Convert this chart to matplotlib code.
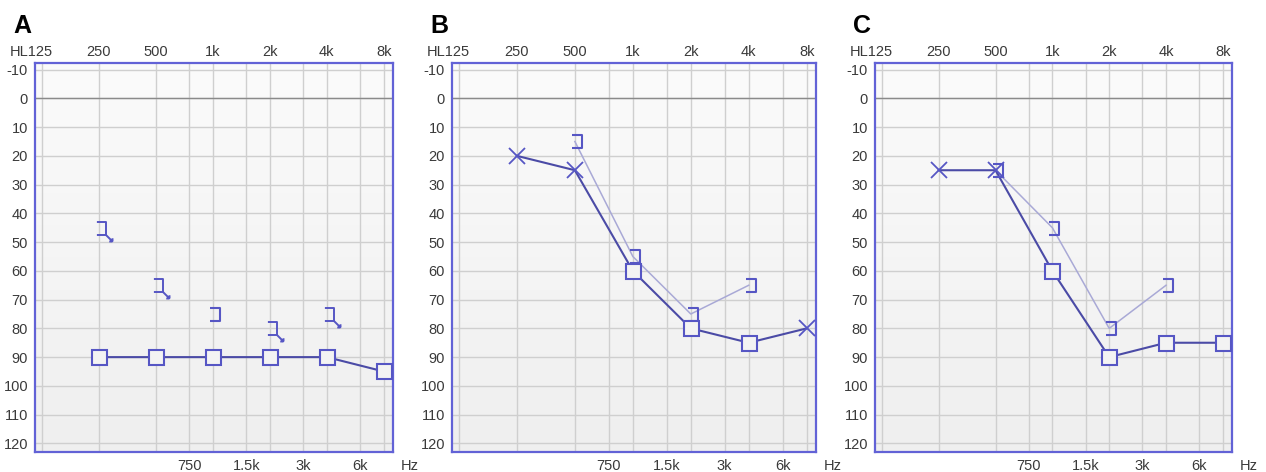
import matplotlib
matplotlib.use("Agg")
import matplotlib.pyplot as plt
from matplotlib.path import Path
from matplotlib.colors import LinearSegmentedColormap
from matplotlib.ticker import FixedLocator, FixedFormatter
import numpy as np

# ---------------- data ----------------
octave_freqs = [125, 250, 500, 1000, 2000, 4000, 8000]
octave_labels = ["", "250", "500", "1k", "2k", "4k", "8k"]
mid_freqs = [750, 1500, 3000, 6000]
mid_labels = ["750", "1.5k", "3k", "6k"]
db_ticks = list(range(-10, 121, 10))

panel_names = ["A", "B", "C"]

# air conduction (dark line)
A_ac_freq = [250, 500, 1000, 2000, 4000, 8000]
A_ac_db = [90, 90, 90, 90, 90, 95]
A_ac_sym = ["s", "s", "s", "s", "s", "s"]

B_ac_freq = [250, 500, 1000, 2000, 4000, 8000]
B_ac_db = [20, 25, 60, 80, 85, 80]
B_ac_sym = ["x", "x", "s", "s", "s", "x"]

C_ac_freq = [250, 500, 1000, 2000, 4000, 8000]
C_ac_db = [25, 25, 60, 90, 85, 85]
C_ac_sym = ["x", "x", "s", "s", "s", "s"]

# bone conduction (brackets, light line)
A_bc_freq = [250, 500, 1000, 2000, 4000]
A_bc_db = [45, 65, 75, 80, 75]
A_bc_noresp = [True, True, False, True, True]
A_bc_connected = False

B_bc_freq = [500, 1000, 2000, 4000]
B_bc_db = [15, 55, 75, 65]
B_bc_noresp = [False, False, False, False]
B_bc_connected = True

C_bc_freq = [500, 1000, 2000, 4000]
C_bc_db = [25, 45, 80, 65]
C_bc_noresp = [False, False, False, False]
C_bc_connected = True

# ---------------- style ----------------
W, H = 1266, 472
FONT = "Liberation Sans"
SPINE = "#6262d6"
DARK = "#4b4ba6"
MARK = "#5656c4"
LIGHT = "#a9a9d6"
GRID = "#cfcfcf"
FACE = "#f4f4f4"
TXT = "#3a3a3a"

px = 72.0 / 100.0  # points per pixel at dpi 100

bg_cmap = LinearSegmentedColormap.from_list("bg", ["#fbfbfb", "#efefef"])
gradient = np.linspace(0, 1, 256).reshape(-1, 1)

# bracket marker  "]"
br_verts = [(-0.2, 0.5), (0.5, 0.5), (0.5, -0.5), (-0.2, -0.5)]
br_codes = [Path.MOVETO, Path.LINETO, Path.LINETO, Path.LINETO]
bracket = Path(br_verts, br_codes)

# bracket with "no response" arrow
ar_verts = br_verts + [(0.5, -0.5), (1.0, -1.0), (1.0, -1.0), (1.0, -0.75), (1.0, -1.0), (0.75, -1.0)]
ar_codes = br_codes + [Path.MOVETO, Path.LINETO, Path.MOVETO, Path.LINETO, Path.MOVETO, Path.LINETO]
bracket_arrow = Path(ar_verts, ar_codes)

fig = plt.figure(figsize=(W / 100, H / 100), dpi=100)
fig.patch.set_facecolor("white")

axes_px = [(35, 393), (452, 816), (875, 1232)]
top_px, bot_px = 63, 452

panels = [
    (A_ac_freq, A_ac_db, A_ac_sym, A_bc_freq, A_bc_db, A_bc_noresp, A_bc_connected),
    (B_ac_freq, B_ac_db, B_ac_sym, B_bc_freq, B_bc_db, B_bc_noresp, B_bc_connected),
    (C_ac_freq, C_ac_db, C_ac_sym, C_bc_freq, C_bc_db, C_bc_noresp, C_bc_connected),
]

for i, ((l, r), data) in enumerate(zip(axes_px, panels)):
    ac_f, ac_d, ac_s, bc_f, bc_d, bc_nr, bc_conn = data
    ax = fig.add_axes([l / W, 1 - bot_px / H, (r - l) / W, (bot_px - top_px) / H])
    ax.set_facecolor(FACE)
    ax.set_xscale("log", base=2)
    ax.imshow(gradient, extent=[0, 1, 0, 1], transform=ax.transAxes,
              aspect="auto", cmap=bg_cmap, origin="upper", zorder=0)
    ax.set_xlim(125 * 2 ** -0.12, 8000 * 2 ** 0.16)
    ax.set_ylim(123, -12.3)

    ax.xaxis.set_major_locator(FixedLocator(octave_freqs))
    ax.xaxis.set_major_formatter(FixedFormatter(octave_labels))
    ax.xaxis.set_minor_locator(FixedLocator(mid_freqs))
    ax.xaxis.set_minor_formatter(FixedFormatter(mid_labels))
    ax.set_yticks(db_ticks)
    ax.set_yticklabels([str(v) for v in db_ticks])

    ax.tick_params(which="major", axis="x", top=False, bottom=False,
                   labeltop=True, labelbottom=False, length=0, pad=3,
                   labelsize=10.5, labelcolor=TXT)
    ax.tick_params(which="minor", axis="x", top=False, bottom=False,
                   labeltop=False, labelbottom=True, length=0, pad=5,
                   labelsize=10.5, labelcolor=TXT)
    ax.tick_params(axis="y", length=0, pad=5, labelsize=10.5, labelcolor=TXT)
    for lab in ax.get_xticklabels(which="both") + ax.get_yticklabels():
        lab.set_fontfamily(FONT)

    ax.grid(True, which="both", axis="x", color=GRID, lw=1.0, zorder=1)
    ax.grid(True, which="major", axis="y", color=GRID, lw=1.0, zorder=1)
    ax.set_axisbelow(True)
    ax.axhline(0, color="#8a8a8a", lw=1.0, zorder=1.5)

    for sp in ax.spines.values():
        sp.set_color(SPINE)
        sp.set_linewidth(1.6)

    # HL125 label (125 tick)
    ax.annotate("HL125", xy=(125, 1), xycoords=("data", "axes fraction"),
                xytext=(11 * px, 3), textcoords="offset points",
                ha="right", va="bottom", fontsize=10.5, color=TXT, family=FONT)
    # Hz label
    ax.annotate("Hz", xy=(1, 0), xycoords="axes fraction",
                xytext=(17 * px, -5), textcoords="offset points",
                ha="center", va="top", fontsize=10.5, color=TXT, family=FONT)

    # bone conduction
    if bc_conn:
        ax.plot(bc_f, bc_d, color=LIGHT, lw=1.1, zorder=2)
    for f, d, nr in zip(bc_f, bc_d, bc_nr):
        if nr:
            ax.plot([f], [d], linestyle="none", marker=bracket_arrow,
                    markersize=26 * px, markeredgewidth=1.4, color=MARK,
                    markerfacecolor="none", zorder=4)
        else:
            ax.plot([f], [d], linestyle="none", marker=bracket,
                    markersize=13 * px, markeredgewidth=1.5, color=MARK,
                    markerfacecolor="none", zorder=4)

    # air conduction
    ax.plot(ac_f, ac_d, color=DARK, lw=1.5, zorder=3, clip_on=False)
    for f, d, s in zip(ac_f, ac_d, ac_s):
        if s == "s":
            ax.plot([f], [d], linestyle="none", marker="s", markersize=15 * px,
                    markeredgewidth=1.5, markeredgecolor=MARK,
                    markerfacecolor="#f3f3f3", zorder=5, clip_on=False)
        else:
            ax.plot([f], [d], linestyle="none", marker="x", markersize=16 * px,
                    markeredgewidth=1.3, color=MARK, zorder=5, clip_on=False)

    fig.text((l - 22) / W, 1 - 33 / H, panel_names[i], fontsize=18,
             fontweight="bold", family=FONT, color="black", ha="left", va="baseline")

fig.savefig("out.png", dpi=100)
